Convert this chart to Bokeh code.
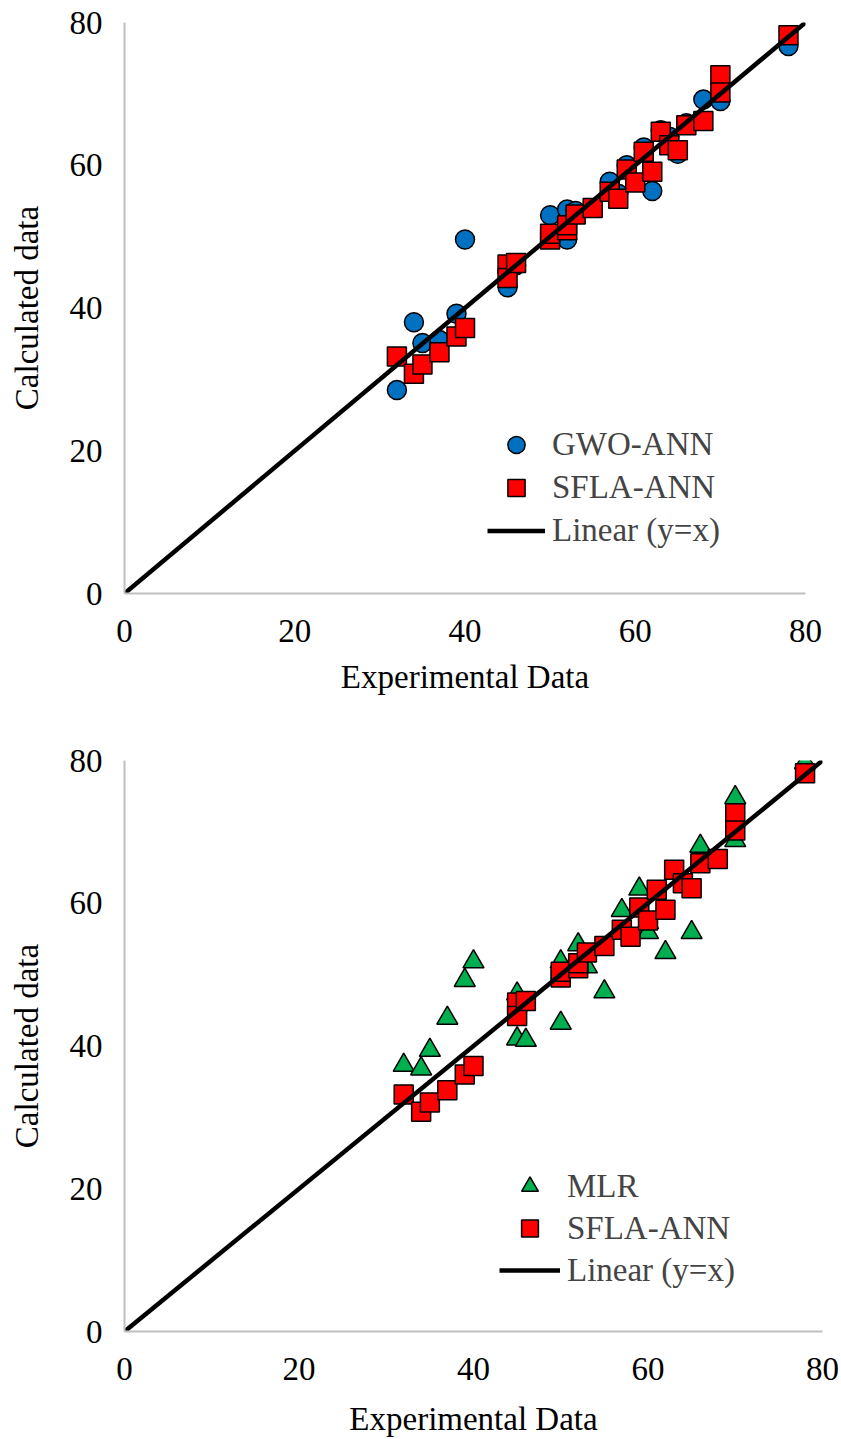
from bokeh.plotting import figure
from bokeh.layouts import column
from bokeh.models import Range1d, Legend, LegendItem
from bokeh.embed import file_html
from bokeh.resources import INLINE

# ---- data ----
sfla_exp = [32, 34, 35, 37, 39, 40, 45, 45, 46, 50, 50, 52, 52, 53, 55, 57, 58, 59, 60, 61, 62, 63, 64, 65, 66, 68, 70, 70, 78]
sfla_calc = [33.2, 30.8, 32.1, 33.8, 36.0, 37.2, 46.1, 44.2, 46.3, 49.6, 50.4, 50.9, 51.6, 53.1, 54.0, 56.3, 55.3, 59.4, 57.6, 61.9, 59.1, 64.7, 62.8, 62.1, 65.6, 66.2, 72.6, 70.2, 78.2]

gwo_exp = [32, 34, 35, 37, 39, 40, 45, 46, 50, 52, 52, 53, 57, 58, 59, 61, 62, 63, 64, 65, 66, 68, 70, 78]
gwo_calc = [28.5, 38.0, 35.1, 35.5, 39.2, 49.6, 42.9, 46.0, 53.0, 53.8, 49.6, 53.6, 57.7, 56.0, 60.0, 62.5, 56.4, 64.9, 64.0, 61.6, 65.9, 69.2, 69.0, 76.7]

mlr_exp = [32, 34, 35, 37, 39, 40, 45, 45, 46, 50, 50, 52, 53, 55, 57, 59, 60, 60, 62, 65, 66, 70, 70, 78]
mlr_calc = [37.3, 36.8, 39.4, 43.9, 49.2, 51.8, 47.3, 41.0, 40.8, 43.2, 51.8, 54.2, 51.1, 47.6, 59.0, 62.0, 57.3, 55.9, 53.1, 55.9, 68.0, 74.8, 68.8, 79.7]

line_x = [0, 80]
line_y = [0, 80]

ticks = [0, 20, 40, 60, 80]
x_label = "Experimental Data"
y_label = "Calculated data"

FONT = "Liberation Serif"
FS = "33px"


def make_fig(fw, right, top, bottom, xlab_standoff):
    p = figure(frame_width=fw, frame_height=571, output_backend="svg", toolbar_location=None,
               x_range=Range1d(0, 80), y_range=Range1d(0, 80),
               min_border_left=124, min_border_right=right,
               min_border_top=top, min_border_bottom=bottom)
    p.outline_line_color = None
    p.xgrid.visible = False
    p.ygrid.visible = False
    for ax in (p.xaxis[0], p.yaxis[0]):
        ax.ticker = ticks
        ax.axis_line_color = "#BFBFBF"
        ax.axis_line_width = 2
        ax.major_tick_line_color = None
        ax.minor_tick_line_color = None
        ax.major_tick_out = 0
        ax.major_tick_in = 0
        ax.minor_tick_out = 0
        ax.major_label_text_font = FONT
        ax.major_label_text_font_size = FS
        ax.major_label_text_color = "black"
        ax.axis_label_text_font = FONT
        ax.axis_label_text_font_size = FS
        ax.axis_label_text_font_style = "normal"
        ax.axis_label_text_color = "black"
    p.xaxis.axis_label = x_label
    p.yaxis.axis_label = y_label
    p.xaxis.major_label_standoff = 26
    p.xaxis.axis_label_standoff = xlab_standoff
    p.yaxis.major_label_standoff = 22
    p.yaxis.axis_label_standoff = 22
    return p


def add_legend(p, items, loc, gw, gh):
    leg = Legend(items=items, location=loc, padding=0, margin=0,
                 glyph_width=gw, glyph_height=gh, label_height=gh, spacing=0,
                 label_standoff=7, label_text_font=FONT, label_text_font_size=FS,
                 background_fill_alpha=0, border_line_color=None)
    p.add_layout(leg, "center")


# ---- top chart ----
p1 = make_fig(681, 36, 22, 118, 14)
r_gwo = p1.scatter(gwo_exp, gwo_calc, marker="circle", size=19, fill_color="#0070C0",
                   line_color="black", line_width=1.5)
r_sfla1 = p1.scatter(sfla_exp, sfla_calc, marker="square", size=19, fill_color="#FF0000",
                     line_color="black", line_width=1.5)
r_lin1 = p1.line(line_x, line_y, line_color="black", line_width=4.5)
add_legend(p1, [LegendItem(label="GWO-ANN", renderers=[r_gwo]),
                LegendItem(label="SFLA-ANN", renderers=[r_sfla1]),
                LegendItem(label="Linear (y=x)", renderers=[r_lin1])], (363, 41), 58, 43)

# ---- bottom chart ----
p2 = make_fig(698, 19, 49, 108, 18)
r_mlr = p2.scatter(mlr_exp, mlr_calc, marker="triangle", size=21, fill_color="#00B050",
                   line_color="black", line_width=1.5)
r_sfla2 = p2.scatter(sfla_exp, sfla_calc, marker="square", size=19, fill_color="#FF0000",
                     line_color="black", line_width=1.5)
r_lin2 = p2.line(line_x, line_y, line_color="black", line_width=4.5)
add_legend(p2, [LegendItem(label="MLR", renderers=[r_mlr]),
                LegendItem(label="SFLA-ANN", renderers=[r_sfla2]),
                LegendItem(label="Linear (y=x)", renderers=[r_lin2])], (375, 40), 61, 42)

layout = column(p1, p2, spacing=0)
open("out.html", "w").write(file_html(layout, INLINE))
